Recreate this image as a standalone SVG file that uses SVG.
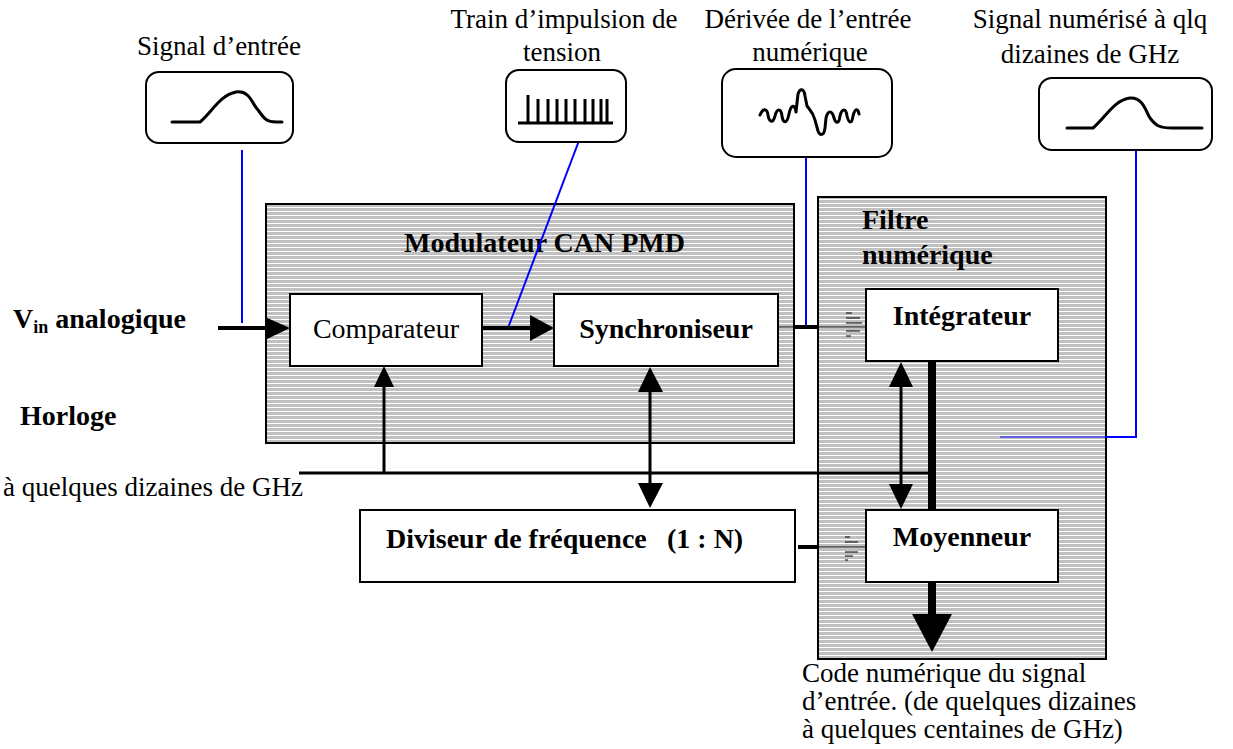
<svg xmlns="http://www.w3.org/2000/svg" width="1233" height="749" viewBox="0 0 1233 749">
<style>
  text { font-family: "Liberation Serif", "Times New Roman", serif; font-size: 27px; fill: #000; }
  .b { font-weight: bold; }
  .nb { font-size: 28px; }
  .box { fill: #fff; stroke: #000; stroke-width: 2; }
  .hatched { fill: url(#hatch); stroke: #000; stroke-width: 2; }
  .sig { fill: #fff; stroke: #000; stroke-width: 2; }
  .wave { fill: none; stroke: #000; stroke-width: 3; stroke-linejoin: round; stroke-linecap: round; }
  .blue { fill: none; stroke: #0000ff; stroke-width: 2; }
  .wire { fill: none; stroke: #000; }
  .head { fill: #000; }
</style>
<defs>
  <pattern id="hatch" width="4" height="4" patternUnits="userSpaceOnUse">
    <rect width="4" height="4" fill="#c0c0c0"/>
    <rect y="3" width="4" height="1" fill="#ffffff"/>
  </pattern>
</defs>

<!-- background containers -->
<g id="modulateur">
  <rect class="hatched" x="266" y="204" width="528" height="239"/>
  <text class="b nb" x="404" y="252">Modulateur CAN PMD</text>
</g>
<g id="filtre">
  <rect class="hatched" x="818" y="197" width="288" height="462"/>
  <text class="b nb" x="862" y="229">Filtre</text>
  <text class="b nb" x="862" y="264">numérique</text>
</g>

<!-- connectors -->
<g id="connectors">
  <!-- blue leader lines -->
  <line class="blue" x1="242" y1="150" x2="242" y2="323"/>
  <line class="blue" x1="580" y1="138" x2="508" y2="328"/>
  <line class="blue" x1="806" y1="157" x2="806" y2="325"/>
  <polyline class="blue" points="1136,150 1136,437 1106,437" stroke-width="3"/>
  <line x1="1106" y1="437" x2="1000" y2="437" stroke="#0000ff" stroke-width="1"/>

  <!-- Vin -> Comparateur -->
  <line class="wire" x1="218" y1="328" x2="266" y2="328" stroke-width="4"/>
  <polygon class="head" points="265,317 290,328 265,340"/>
  <!-- Comparateur -> Synchroniseur -->
  <line class="wire" x1="482" y1="328" x2="531" y2="328" stroke-width="4"/>
  <polygon class="head" points="530,315 554,328 530,341"/>
  <!-- Synchroniseur -> Intégrateur -->
  <line class="wire" x1="778" y1="327" x2="866" y2="327" stroke-width="1"/>
  <line class="wire" x1="793" y1="327" x2="818" y2="327" stroke-width="4"/>
  <g stroke="#000" stroke-width="1">
    <line x1="846" y1="313" x2="852" y2="313"/>
    <line x1="846" y1="318" x2="860" y2="318"/>
    <line x1="846" y1="323" x2="862" y2="323"/>
    <line x1="846" y1="331" x2="860" y2="331"/>
    <line x1="846" y1="336" x2="851" y2="336"/>
  </g>
  <!-- Diviseur -> Moyenneur -->
  <line class="wire" x1="818" y1="547" x2="866" y2="547" stroke-width="1"/>
  <line class="wire" x1="798" y1="547" x2="818" y2="547" stroke-width="4"/>
  <g stroke="#000" stroke-width="1">
    <line x1="845" y1="537" x2="850" y2="537"/>
    <line x1="845" y1="542" x2="858" y2="542"/>
    <line x1="845" y1="552" x2="858" y2="552"/>
    <line x1="845" y1="556" x2="853" y2="556"/>
    <line x1="845" y1="560" x2="848" y2="560"/>
  </g>

  <!-- Horloge line -->
  <line class="wire" x1="299" y1="473" x2="932" y2="473" stroke-width="3"/>
  <!-- clock -> Comparateur -->
  <line class="wire" x1="384" y1="473" x2="384" y2="384" stroke-width="3"/>
  <polygon class="head" points="374,387 384,366 394,387"/>
  <!-- Synchroniseur <-> Diviseur -->
  <line class="wire" x1="650" y1="390" x2="650" y2="486" stroke-width="3"/>
  <polygon class="head" points="638,392 650,367 663,392"/>
  <polygon class="head" points="638,483 650,508 663,483"/>
  <!-- Intégrateur <-> Moyenneur -->
  <line class="wire" x1="901" y1="384" x2="901" y2="487" stroke-width="3"/>
  <polygon class="head" points="889,387 901,362 913,387"/>
  <polygon class="head" points="889,484 901,509 913,484"/>
  <!-- thick output bus -->
  <line class="wire" x1="932" y1="362" x2="932" y2="618" stroke-width="8"/>
  <polygon class="head" points="912,614 952,614 932,652"/>
</g>

<!-- nodes -->
<g id="comparateur">
  <rect class="box" x="290" y="294" width="192" height="72"/>
  <text class="nb" x="386" y="338" text-anchor="middle">Comparateur</text>
</g>
<g id="synchroniseur">
  <rect class="box" x="554" y="294" width="224" height="72"/>
  <text class="b nb" x="666" y="338" text-anchor="middle">Synchroniseur</text>
</g>
<g id="integrateur">
  <rect class="box" x="866" y="289" width="192" height="72"/>
  <text class="b nb" x="962" y="325" text-anchor="middle">Intégrateur</text>
</g>
<g id="moyenneur">
  <rect class="box" x="866" y="510" width="192" height="72"/>
  <text class="b nb" x="962" y="546" text-anchor="middle">Moyenneur</text>
</g>
<g id="diviseur">
  <rect class="box" x="360" y="510" width="435" height="72"/>
  <text class="b nb" x="386" y="548">Diviseur de fréquence</text>
  <text class="b nb" x="667" y="548">(1 : N)</text>
</g>

<!-- signal thumbnails -->
<g id="sig-entree">
  <text x="219" y="55" text-anchor="middle" font-size="25">Signal d’entrée</text>
  <rect class="sig" x="146" y="72" width="147" height="71" rx="13"/>
  <path class="wave" d="M172,122 L200,122 C212,112 220,95 236,92 C250,90 252,104 258,110 C264,118 266,122 276,122 L282,122"/>
</g>
<g id="sig-train">
  <text x="564" y="28" text-anchor="middle">Train d’impulsion de</text>
  <text x="562" y="61" text-anchor="middle">tension</text>
  <rect class="sig" x="506" y="70" width="120" height="72" rx="13"/>
  <line x1="518" y1="123" x2="613" y2="123" stroke="#000" stroke-width="3"/>
  <g stroke="#000" stroke-width="3">
    <line x1="528" y1="95" x2="528" y2="123"/>
    <line x1="538" y1="99" x2="538" y2="123"/>
    <line x1="548" y1="99" x2="548" y2="123"/>
    <line x1="557" y1="99" x2="557" y2="123"/>
    <line x1="566" y1="99" x2="566" y2="123"/>
    <line x1="575" y1="99" x2="575" y2="123"/>
    <line x1="585" y1="99" x2="585" y2="123"/>
    <line x1="593" y1="99" x2="593" y2="123"/>
    <line x1="601" y1="99" x2="601" y2="123"/>
    <line x1="607" y1="99" x2="607" y2="123"/>
  </g>
</g>
<g id="sig-derivee">
  <text x="808" y="28" text-anchor="middle">Dérivée de l’entrée</text>
  <text x="810" y="61" text-anchor="middle">numérique</text>
  <rect class="sig" x="722" y="69" width="170" height="88" rx="14"/>
  <path class="wave" d="M760,115 C763,108 767,108 768,115 C769,122 773,124 775,116 C777,108 781,108 782,116 C783,124 787,124 789,114 C791,104 795,104 796,112 L798,94 C800,88 804,88 805,96 L807,106 C810,110 813,112 815,120 L818,131 C820,136 824,136 825,128 L826,118 C828,110 832,110 834,118 C836,124 839,124 840,116 C842,108 846,108 847,116 C849,124 852,124 853,116 C855,108 858,108 859,114"/>
</g>
<g id="sig-numerise">
  <text x="1090" y="28" text-anchor="middle">Signal numérisé à qlq</text>
  <text x="1090" y="63" text-anchor="middle">dizaines de GHz</text>
  <rect class="sig" x="1039" y="78" width="173" height="72" rx="13"/>
  <path class="wave" d="M1067,128 L1093,128 C1106,117 1114,100 1130,98 C1143,97 1146,112 1150,118 C1156,126 1160,128 1172,128 L1202,128"/>
</g>

<!-- free labels -->
<g id="vin">
  <text class="b nb" x="186" y="328" text-anchor="end">V<tspan font-size="18" dy="5">in</tspan><tspan dy="-5"> analogique</tspan></text>
</g>
<g id="horloge">
  <text class="b nb" x="20" y="425">Horloge</text>
  <text x="3" y="496" font-size="26">à quelques dizaines de GHz</text>
</g>
<g id="sortie">
  <text x="802" y="682" font-size="26">Code numérique du signal</text>
  <text x="802" y="710" font-size="26">d’entrée. (de quelques dizaines</text>
  <text x="802" y="738" font-size="26">à quelques centaines de GHz)</text>
</g>
</svg>
